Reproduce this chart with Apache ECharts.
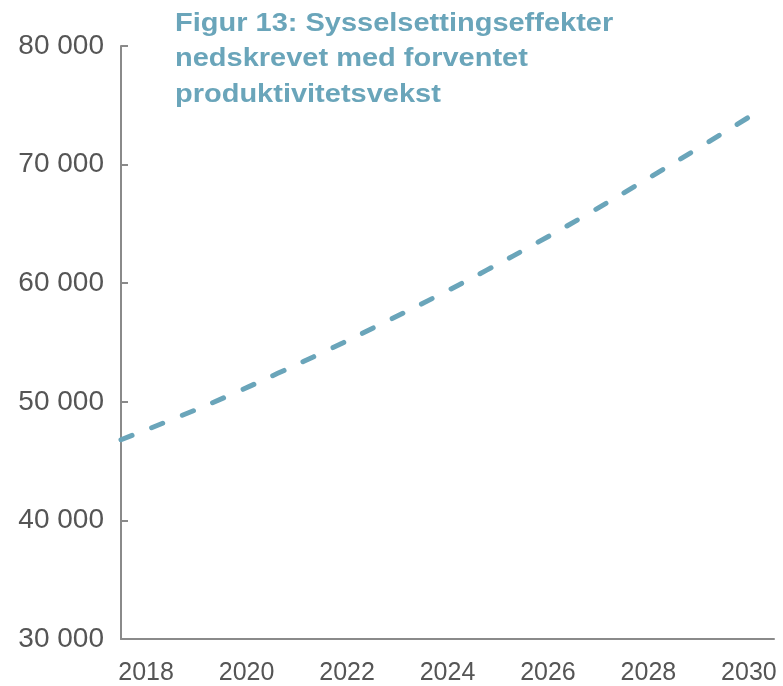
<!DOCTYPE html>
<html>
<head>
<meta charset="utf-8">
<script src="https://cdn.jsdelivr.net/npm/echarts@6/dist/echarts.min.js"></script>
<style>
  html, body { margin: 0; padding: 0; background: #ffffff; }
  #chart { width: 783px; height: 686px; }
</style>
</head>
<body>
<div id="chart"></div>
<script>
// Category labels along the horizontal axis
const years = ['2018', '2019', '2020', '2021', '2022', '2023', '2024',
               '2025', '2026', '2027', '2028', '2029', '2030'];
// Year positions of the series points
const pointYears = [2018, 2019, 2020, 2021, 2022, 2023, 2024,
                    2025, 2026, 2027, 2028, 2029, 2030];
// Employment effects (persons)
const employment = [46800, 48550, 50400, 52400, 54450, 56600, 58800,
                    61100, 63500, 66000, 68600, 71250, 73950];
// Vertical axis range
const yMin = 30000, yMax = 80000, yStep = 10000;

const titleText = 'Figur 13: Sysselsettingseffekter\nnedskrevet med forventet\nproduktivitetsvekst';
const fontFamily = '"Liberation Sans", Arial, sans-serif';
const axisColor = '#8a8a8a';
const labelColor = '#555555';
const lineColor = '#6aa5ba';

function thousands(v) {
  return String(v).replace(/\B(?=(\d{3})+(?!\d))/g, ' ');
}

const chart = echarts.init(document.getElementById('chart'), null, { renderer: 'canvas' });
chart.setOption({
  animation: false,
  backgroundColor: '#ffffff',
  graphic: [{
    type: 'text',
    x: 175,
    y: 6,
    scaleX: 1.115,
    style: {
      text: titleText,
      font: 'bold 26px ' + fontFamily,
      fill: lineColor,
      lineHeight: 35.5,
      verticalAlign: 'top',
      align: 'left'
    }
  }],
  grid: { left: 121, right: 9, top: 46, bottom: 42, containLabel: false },
  xAxis: [
    {
      type: 'category',
      data: years,
      boundaryGap: true,
      axisLine: { lineStyle: { color: axisColor, width: 2 } },
      axisTick: { inside: true, length: 6, interval: 0, lineStyle: { color: axisColor, width: 2 } },
      axisLabel: { interval: 1, margin: 22, fontSize: 25, color: labelColor, fontFamily: fontFamily },
      splitLine: { show: false }
    },
    {
      type: 'value',
      min: 2018,
      max: 2030.5,
      show: false
    }
  ],
  yAxis: {
    type: 'value',
    min: yMin,
    max: yMax,
    interval: yStep,
    axisLine: { show: true, lineStyle: { color: axisColor, width: 2 } },
    axisTick: { show: true, inside: true, length: 7, lineStyle: { color: axisColor, width: 2 } },
    axisLabel: {
      margin: 17,
      fontSize: 28,
      padding: [0, 0, 4, 0],
      color: labelColor,
      fontFamily: fontFamily,
      formatter: v => thousands(v)
    },
    splitLine: { show: false }
  },
  series: [{
    type: 'line',
    xAxisIndex: 1,
    data: pointYears.map((y, i) => [y, employment[i]]),
    smooth: true,
    showSymbol: false,
    lineStyle: { color: lineColor, width: 5, type: [12, 21], cap: 'round' }
  }]
});
</script>
</body>
</html>
